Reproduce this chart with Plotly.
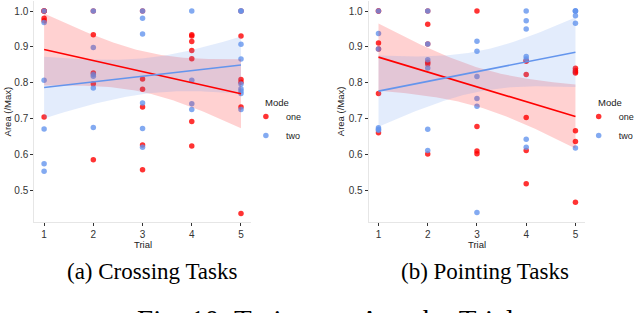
import numpy as np
import plotly.graph_objects as go

trials = [1, 2, 3, 4, 5]
tick_vals_y = [0.5, 0.6, 0.7, 0.8, 0.9, 1.0]
tick_text_y = ["0.5", "0.6", "0.7", "0.8", "0.9", "1.0"]

# (a) Crossing Tasks — Area (/Max) per trial (overlapping points at 1.0 repeated)
cross_one = [
    [1.0, 1.0, 1.0, 0.98, 0.973, 0.704],
    [1.0, 0.934, 0.827, 0.797, 0.585],
    [1.0, 0.81, 0.782, 0.732, 0.626, 0.557],
    [0.934, 0.93, 0.915, 0.89, 0.867, 0.692, 0.623],
    [1.0, 0.93, 0.809, 0.801, 0.732, 0.435],
]
cross_two = [
    [1.0, 0.968, 0.807, 0.671, 0.574, 0.553],
    [1.0, 0.898, 0.823, 0.818, 0.785, 0.675],
    [1.0, 0.98, 0.936, 0.743, 0.672, 0.62],
    [1.0, 0.807, 0.741, 0.725],
    [1.0, 1.0, 0.907, 0.866, 0.796, 0.783, 0.777, 0.77, 0.725],
]
# (b) Pointing Tasks
point_one = [
    [1.0, 1.0, 0.911, 0.894, 0.77, 0.66],
    [1.0, 0.963, 0.908, 0.857, 0.852, 0.601],
    [1.0, 0.678, 0.609, 0.602],
    [0.862, 0.86, 0.823, 0.703, 0.611, 0.518],
    [0.84, 0.834, 0.83, 0.827, 0.666, 0.636, 0.466],
]
point_two = [
    [1.0, 0.937, 0.894, 0.674, 0.67, 0.667],
    [1.0, 0.908, 0.864, 0.841, 0.67, 0.611],
    [0.916, 0.888, 0.817, 0.756, 0.734, 0.438],
    [1.0, 0.973, 0.95, 0.873, 0.866, 0.642, 0.62],
    [1.0, 1.0, 1.0, 0.987, 0.966, 0.618],
]

RED = "#FF0000"
BLUE = "#6495ED"
RED_FILL = "rgba(255,0,0,0.18)"
BLUE_FILL = "rgba(100,149,237,0.18)"
FONT = "Liberation Sans"
W, H = 640, 313


def flatten(groups):
    xs, ys = [], []
    for t, vals in zip(trials, groups):
        xs += [t] * len(vals)
        ys += vals
    return np.array(xs, float), np.array(ys, float)


def tq975(df):
    z = 1.959963985
    g1 = (z**3 + z) / 4
    g2 = (5 * z**5 + 16 * z**3 + 3 * z) / 96
    g3 = (3 * z**7 + 19 * z**5 + 17 * z**3 - 15 * z) / 384
    return z + g1 / df + g2 / df**2 + g3 / df**3


def lm_band(xs, ys, grid):
    n = len(xs)
    xm = xs.mean()
    sxx = ((xs - xm) ** 2).sum()
    b = ((xs - xm) * (ys - ys.mean())).sum() / sxx
    a = ys.mean() - b * xm
    res = ys - (a + b * xs)
    s = np.sqrt((res**2).sum() / (n - 2))
    fit = a + b * grid
    se = s * np.sqrt(1 / n + (grid - xm) ** 2 / sxx)
    t = tq975(n - 2)
    return fit, fit - t * se, fit + t * se


def px_x(p):
    return p / W


def px_y(p):
    return 1 - p / H


fig = go.Figure()

panels = [
    ("x", "y", "legend", cross_one, cross_two),
    ("x2", "y2", "legend2", point_one, point_two),
]
grid = np.linspace(1, 5, 80)
for xa, ya, lg, one, two in panels:
    for name, groups, col in [("one", one, RED), ("two", two, BLUE)]:
        xs, ys = flatten(groups)
        fig.add_trace(go.Scatter(x=xs, y=ys, mode="markers", name=name,
                                 marker=dict(color=col, size=5.5, opacity=0.8),
                                 xaxis=xa, yaxis=ya, legend=lg, showlegend=True))
    for groups, col, fill in [(one, RED, RED_FILL), (two, BLUE, BLUE_FILL)]:
        xs, ys = flatten(groups)
        fit, lo, hi = lm_band(xs, ys, grid)
        fig.add_trace(go.Scatter(x=np.concatenate([grid, grid[::-1]]),
                                 y=np.concatenate([hi, lo[::-1]]),
                                 fill="toself", fillcolor=fill, mode="lines",
                                 line=dict(width=0), hoverinfo="skip",
                                 xaxis=xa, yaxis=ya, showlegend=False))
    for groups, col in [(one, RED), (two, BLUE)]:
        xs, ys = flatten(groups)
        fit, lo, hi = lm_band(xs, ys, grid)
        fig.add_trace(go.Scatter(x=grid, y=fit, mode="lines",
                                 line=dict(color=col, width=1.6),
                                 xaxis=xa, yaxis=ya, showlegend=False))

y_bot, y_top = 221.7, 1.0
dom_y = [px_y(y_bot), px_y(y_top)]
axis_common_x = dict(range=[0.8, 5.2], tickvals=trials, ticktext=[str(t) for t in trials],
                     showgrid=False, zeroline=False, showline=True, linecolor="#E6E6E6",
                     linewidth=1, ticks="outside", ticklen=3, tickcolor="#333333",
                     tickfont=dict(family=FONT, size=10, color="#333333"))
axis_common_y = dict(range=[0.412, 1.028], tickvals=tick_vals_y, ticktext=tick_text_y,
                     showgrid=False, zeroline=False, showline=True, linecolor="#E6E6E6",
                     linewidth=1, ticks="outside", ticklen=3, tickcolor="#333333",
                     tickfont=dict(family=FONT, size=10, color="#333333"))

legend_common = dict(font=dict(family=FONT, size=9, color="#222222"),
                     bgcolor="rgba(0,0,0,0)", xanchor="left", yanchor="top",
                     itemwidth=30, tracegroupgap=0)

fig.update_layout(
    width=W, height=H,
    margin=dict(l=0, r=0, t=0, b=0),
    paper_bgcolor="white", plot_bgcolor="white",
    font=dict(family=FONT),
    xaxis=dict(domain=[px_x(34.7), px_x(254)], anchor="y", **axis_common_x),
    yaxis=dict(domain=dom_y, anchor="x", **axis_common_y),
    xaxis2=dict(domain=[px_x(373.3), px_x(592.7)], anchor="y2", **axis_common_x),
    yaxis2=dict(domain=dom_y, anchor="x2", **axis_common_y),
    legend=dict(x=px_x(249), y=px_y(102), **legend_common),
    legend2=dict(x=px_x(586), y=px_y(102), **legend_common),
)

annots = [
    ("Trial", 144.4, 244, 0, 9.5, FONT, "#222222", "center"),
    ("Trial", 483.0, 244, 0, 9.5, FONT, "#222222", "center"),
    ("Area (/Max)", 7.5, 111, -90, 9.5, FONT, "#222222", "center"),
    ("Area (/Max)", 344.5, 111, -90, 9.5, FONT, "#222222", "center"),
    ("Mode", 266, 102, 0, 9.5, FONT, "#222222", "left"),
    ("Mode", 603.5, 102, 0, 9.5, FONT, "#222222", "left"),
    ("(a) Crossing Tasks", 154, 271, 0, 23, "Liberation Serif", "#000000", "center"),
    ("(b) Pointing Tasks", 491, 271, 0, 23, "Liberation Serif", "#000000", "center"),
    ("Fig. 10: Trajectory Area by Trial", 330, 320, 0, 29, "Liberation Serif", "#000000", "center"),
]
for text, x, y, ang, size, fam, col, anc in annots:
    fig.add_annotation(text=text, x=px_x(x), y=px_y(y), xref="paper", yref="paper",
                       xanchor=anc, yanchor="middle", textangle=ang, showarrow=False,
                       font=dict(family=fam, size=size, color=col))

fig.write_html("out.html", config={"displayModeBar": False},
               post_script="document.body.style.margin='0px';")
